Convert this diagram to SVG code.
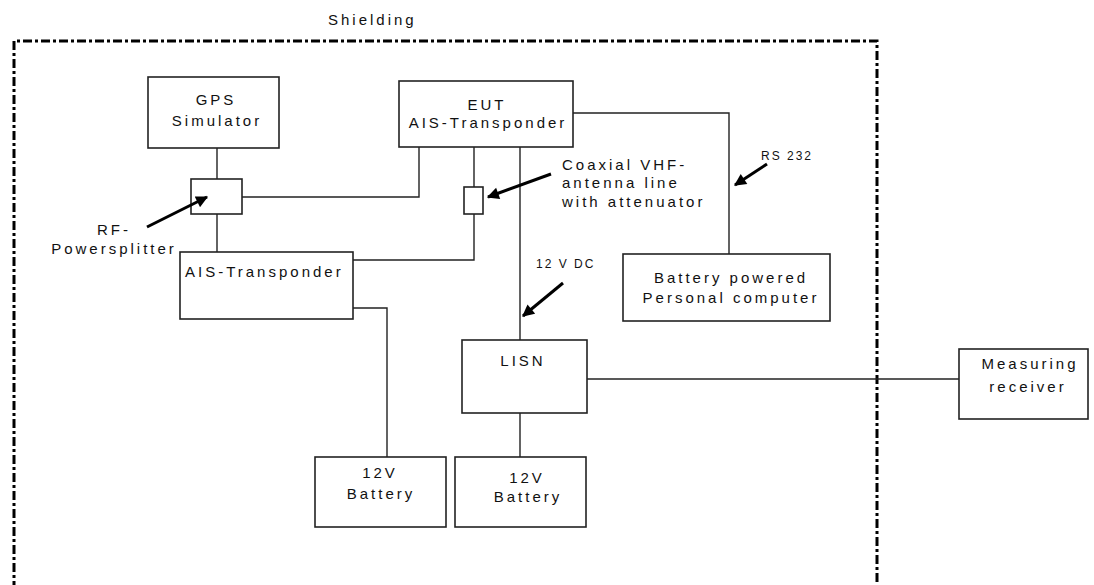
<svg xmlns="http://www.w3.org/2000/svg" width="1094" height="585" viewBox="0 0 1094 585">
<defs>
<marker id="ah" viewBox="0 0 10 10" refX="9" refY="5" markerWidth="4.5" markerHeight="4" orient="auto" markerUnits="strokeWidth">
<path d="M0 0 L10 5 L0 10 Z" fill="#000"/>
</marker>
</defs>
<style>
.box{fill:#fff;stroke:#222;stroke-width:1.6}
.wire{fill:none;stroke:#222;stroke-width:1.4}
.ann{fill:none;stroke:#000;stroke-width:3;marker-end:url(#ah)}
.shield{fill:none;stroke:#000;stroke-width:3;stroke-dasharray:9 3 3 3}
text{font-family:"Liberation Sans",Arial,sans-serif;font-size:15px;letter-spacing:3px;fill:#111}
.c{text-anchor:middle}
.s{font-size:12px;letter-spacing:2px}
</style>
<path class="shield" d="M14 590 V41 H877 V590"/>
<text x="328" y="25">Shielding</text>
<g id="connectors">
<path class="wire" d="M217 148 V179"/>
<path class="wire" d="M217 214 V252"/>
<path class="wire" d="M242 197 H419 V147"/>
<path class="wire" d="M474 147 V187"/>
<path class="wire" d="M474 214 V260 H353"/>
<path class="wire" d="M520 147 V340"/>
<path class="wire" d="M573 113 H729 V254"/>
<path class="wire" d="M353 308 H387 V457"/>
<path class="wire" d="M520 413 V457"/>
<path class="wire" d="M587 379 H959"/>
</g>
<g id="gps">
<rect class="box" x="148" y="77" width="131" height="71"/>
<text class="c" x="216" y="105">GPS</text>
<text class="c" x="217" y="126">Simulator</text>
</g>
<g id="splitter">
<rect class="box" x="191" y="179" width="51" height="35"/>
</g>
<g id="eut">
<rect class="box" x="399" y="81" width="174" height="66"/>
<text class="c" x="487" y="110">EUT</text>
<text class="c" x="488" y="128">AIS-Transponder</text>
</g>
<g id="attenuator">
<rect class="box" x="464" y="187" width="19" height="27"/>
</g>
<g id="ais">
<rect class="box" x="180" y="252" width="173" height="67"/>
<text x="185" y="277">AIS-Transponder</text>
</g>
<g id="pc">
<rect class="box" x="623" y="254" width="207" height="67"/>
<text class="c" x="731" y="283">Battery powered</text>
<text class="c" x="731" y="303">Personal computer</text>
</g>
<g id="lisn">
<rect class="box" x="462" y="340" width="125" height="73"/>
<text class="c" x="523" y="366">LISN</text>
</g>
<g id="receiver">
<rect class="box" x="959" y="349" width="129" height="70"/>
<text class="c" x="1030" y="369">Measuring</text>
<text class="c" x="1028" y="392">receiver</text>
</g>
<g id="battery1">
<rect class="box" x="315" y="457" width="131" height="70"/>
<text class="c" x="380" y="478">12V</text>
<text class="c" x="381" y="499">Battery</text>
</g>
<g id="battery2">
<rect class="box" x="455" y="457" width="131" height="70"/>
<text class="c" x="527" y="483">12V</text>
<text class="c" x="528" y="502">Battery</text>
</g>
<g id="annotations">
<path class="ann" d="M147 227 L207 197"/>
<text class="c" x="114" y="235">RF-</text>
<text class="c" x="114" y="254">Powersplitter</text>
<path class="ann" d="M551 174 L488 197"/>
<text x="562" y="170">Coaxial VHF-</text>
<text x="562" y="188">antenna line</text>
<text x="562" y="207">with attenuator</text>
<path class="ann" d="M767 164 L735 185"/>
<text class="s" x="761" y="160">RS 232</text>
<path class="ann" d="M563 283 L523 316"/>
<text class="s" x="536" y="268">12 V DC</text>
</g>
</svg>
